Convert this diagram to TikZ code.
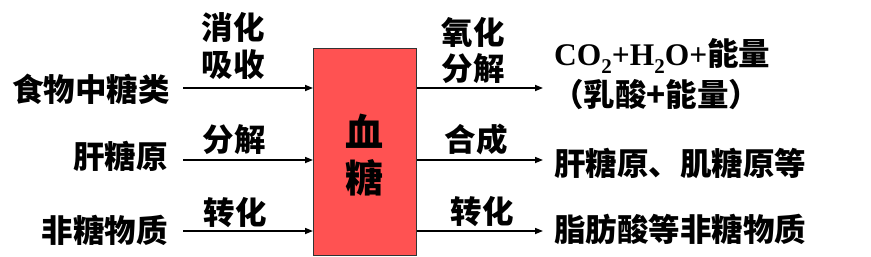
\documentclass[tikz,border=0pt]{standalone}
\usepackage{fontspec}
\setmainfont{Liberation Serif}
\newfontfamily\cjk{Noto Sans CJK SC}
\usetikzlibrary{arrows.meta}
\definecolor{boxred}{RGB}{255,82,82}
\begin{document}
\begin{tikzpicture}[x=1pt,y=-1pt,
  txt/.style={font=\cjk\bfseries\fontsize{31.5}{31.5}\selectfont, inner sep=0pt},
  big/.style={font=\cjk\bfseries\fontsize{38}{38}\selectfont, inner sep=0pt},
  arr/.style={line width=1.6pt, -{Triangle[length=8pt,width=6pt]}}]
\useasboundingbox (0,0) rectangle (871,257);
\node[draw=black!80, line width=1pt, fill=boxred, minimum width=103pt, minimum height=207pt, anchor=north west, inner sep=0pt] (box) at (313,48) {};
\node[big] (xue) at (364,131) {血};
\node[big] (tang) at (364,178) {糖};
% left sources
\node[txt, anchor=east] (food) at (170,89) {食物中糖类};
\node[txt, anchor=east] (gan) at (168,156) {肝糖原};
\node[txt, anchor=east] (fei) at (168,230) {非糖物质};
% left labels
\node[txt] (l1a) at (233,27) {消化};
\node[txt] (l1b) at (233,65) {吸收};
\node[txt] (l2) at (234,140) {分解};
\node[txt] (l3) at (235,213) {转化};
% right labels
\node[txt] (r1a) at (473,32) {氧化};
\node[txt] (r1b) at (473,69) {分解};
\node[txt] (r2) at (476,139) {合成};
\node[txt] (r3) at (482,212) {转化};
% right products
\node[inner sep=0pt, anchor=west, font=\bfseries\fontsize{31.5}{31.5}\selectfont] (co2) at (554,56)
  {CO\raisebox{-0.28em}{\fontsize{21}{21}\selectfont 2}+H\raisebox{-0.28em}{\fontsize{21}{21}\selectfont 2}O+{\cjk\bfseries 能量}};
\node[txt, anchor=west] (ru) at (552,95) {（乳酸+能量）};
\node[txt, anchor=west] (glyc) at (554,163) {肝糖原、肌糖原等};
\node[txt, anchor=west] (fat) at (554,229) {脂肪酸等非糖物质};
% arrows
\coordinate (a1) at (183,88);
\coordinate (a2) at (183,160);
\coordinate (a3) at (183,231);
\coordinate (b1) at (543,88);
\coordinate (b2) at (543,160);
\coordinate (b3) at (543,231);
\draw[arr] (a1) -- (a1 -| box.west);
\draw[arr] (a2) -- (a2 -| box.west);
\draw[arr] (a3) -- (a3 -| box.west);
\draw[arr] (b1 -| box.east) -- (b1);
\draw[arr] (b2 -| box.east) -- (b2);
\draw[arr] (b3 -| box.east) -- (b3);
\end{tikzpicture}
\end{document}
